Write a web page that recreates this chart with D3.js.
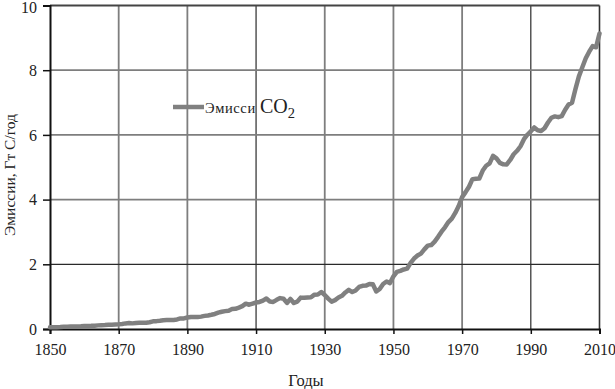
<!DOCTYPE html>
<html><head><meta charset="utf-8">
<script src="https://cdn.jsdelivr.net/npm/d3@7"></script>
<style>body{margin:0;background:#fff}svg{display:block}text{font-family:"Liberation Serif","DejaVu Serif",serif;fill:#222}</style>
</head><body><div id="c"></div>
<script>
const years = d3.range(1850, 2011);
const emissions = [
0.054,0.054,0.057,0.059,0.069,0.071,0.076,0.077,0.078,0.083,
0.091,0.095,0.097,0.104,0.112,0.119,0.122,0.130,0.135,0.142,
0.147,0.156,0.173,0.184,0.174,0.188,0.191,0.194,0.196,0.210,
0.236,0.243,0.256,0.272,0.275,0.277,0.281,0.295,0.327,0.327,
0.356,0.372,0.374,0.370,0.383,0.406,0.419,0.440,0.465,0.507,
0.534,0.552,0.566,0.617,0.624,0.663,0.707,0.784,0.750,0.785,
0.819,0.836,0.879,0.943,0.850,0.838,0.901,0.955,0.936,0.806,
0.932,0.803,0.845,0.970,0.963,0.975,0.983,1.062,1.065,1.145,
1.053,0.940,0.847,0.893,0.973,1.027,1.130,1.209,1.142,1.192,
1.299,1.334,1.342,1.391,1.383,1.160,1.238,1.392,1.469,1.419,
1.630,1.768,1.796,1.841,1.865,2.043,2.178,2.270,2.330,2.462,
2.577,2.594,2.700,2.848,3.008,3.145,3.305,3.411,3.588,3.800,
4.076,4.231,4.399,4.631,4.642,4.652,4.898,5.047,5.121,5.352,
5.276,5.134,5.091,5.088,5.225,5.401,5.509,5.649,5.868,6.005,
6.111,6.229,6.141,6.123,6.206,6.383,6.530,6.572,6.548,6.581,
6.778,6.940,6.996,7.420,7.810,8.089,8.370,8.572,8.746,8.708,
9.137];
const xTicks = [1850,1870,1890,1910,1930,1950,1970,1990,2010];
const yTicks = [0,2,4,6,8,10];
const xTitle = "Годы";
const yTitle = "Эмиссии, Гт С/год";
const seriesName = "Эмисси";

const W = 615, H = 389;
const svg = d3.select("#c").append("svg").attr("width", W).attr("height", H);
const x = d3.scaleLinear().domain([1850, 2010]).range([50, 599.5]);
const y = d3.scaleLinear().domain([0, 10]).range([329, 5.5]);

const dark = new Set([1910, 1990]);
// vertical grid
svg.append("g").selectAll("line").data(xTicks.slice(1, -1)).join("line")
  .attr("x1", d => x(d)).attr("x2", d => x(d)).attr("y1", y(10)).attr("y2", y(0))
  .attr("stroke", d => dark.has(d) ? "#2a2a2a" : "#7e7e7e")
  .attr("stroke-width", d => dark.has(d) ? 1.2 : 1.8);
// horizontal grid
svg.append("g").selectAll("line").data(yTicks.slice(1, -1)).join("line")
  .attr("x1", x(1850)).attr("x2", x(2010)).attr("y1", d => y(d)).attr("y2", d => y(d))
  .attr("stroke", d => d === 2 ? "#2a2a2a" : "#7e7e7e")
  .attr("stroke-width", d => d === 2 ? 1.3 : 1.8);
// frame top/right
svg.append("line").attr("x1", x(1850)).attr("x2", x(2010)).attr("y1", y(10)).attr("y2", y(10))
  .attr("stroke", "#444").attr("stroke-width", 1.8);
svg.append("line").attr("x1", x(2010)).attr("x2", x(2010)).attr("y1", y(10)).attr("y2", y(0))
  .attr("stroke", "#333").attr("stroke-width", 1.6);

// axes
const xAxis = svg.append("g").attr("transform", `translate(0,${y(0)})`)
  .call(d3.axisBottom(x).tickValues(xTicks).tickFormat(d3.format("d")).tickSize(5).tickPadding(10));
const yAxis = svg.append("g").attr("transform", `translate(${x(1850)},0)`)
  .call(d3.axisLeft(y).tickValues(yTicks).tickSize(7).tickPadding(6));
[xAxis, yAxis].forEach(g => {
  g.select(".domain").attr("stroke", "#111").attr("stroke-width", 2);
  g.selectAll(".tick line").attr("stroke", "#111").attr("stroke-width", 1.5);
  g.selectAll("text").attr("font-size", 16).attr("fill", "#222")
    .attr("font-family", '"Liberation Serif",serif');
});
yAxis.selectAll(".tick text").filter(d => d === 10).attr("dy", "0.45em");

// line
const line = d3.line().x((d, i) => x(years[i])).y(d => y(d));
svg.append("path").datum(emissions).attr("d", line)
  .attr("fill", "none").attr("stroke", "#808080").attr("stroke-width", 4.5)
  .attr("stroke-linejoin", "round").attr("stroke-linecap", "round");

// legend
svg.append("line").attr("x1", 173).attr("x2", 204).attr("y1", 107).attr("y2", 107)
  .attr("stroke", "#808080").attr("stroke-width", 4.5);
const lt = svg.append("text").attr("x", 205).attr("y", 113).attr("font-size", 14.5);
lt.append("tspan").attr("letter-spacing", 0.6).text(seriesName + " ");
lt.append("tspan").attr("font-size", 20).text("CO");
lt.append("tspan").attr("font-size", 14.5).attr("dy", 5).text("2");

// titles
svg.append("text").attr("x", 306).attr("y", 386).attr("text-anchor", "middle")
  .attr("font-size", 16.5).text(xTitle);
svg.append("text").attr("transform", "translate(15,175) rotate(-90)").attr("text-anchor", "middle")
  .attr("font-size", 15.5).text(yTitle);
</script></body></html>
